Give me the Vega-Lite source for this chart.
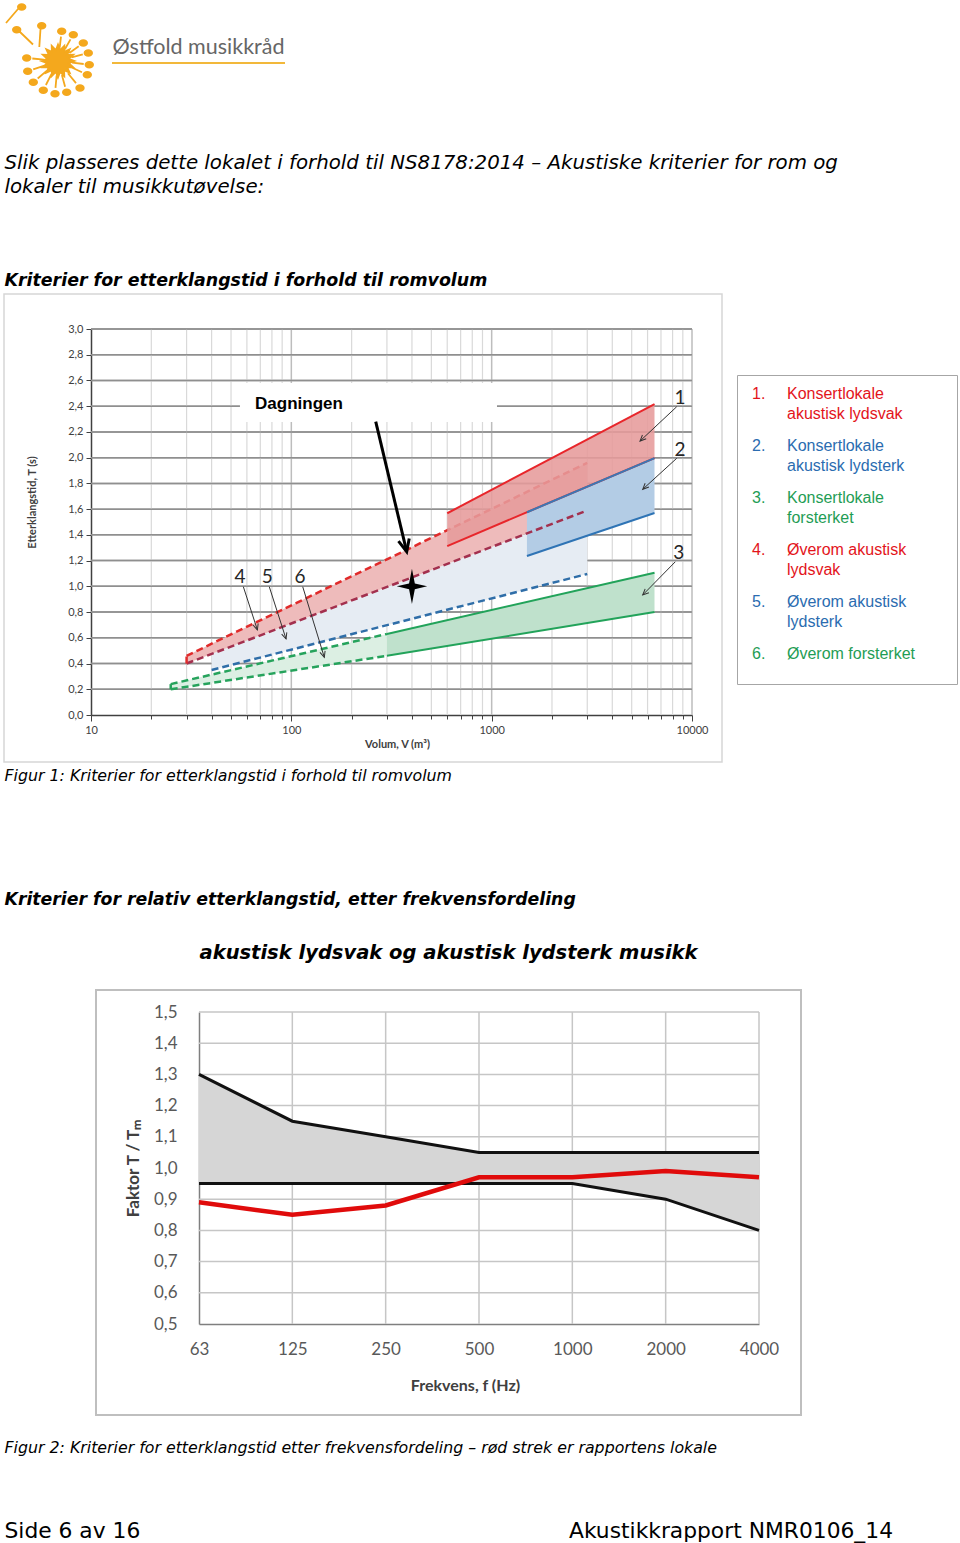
{
  "$schema": "https://vega.github.io/schema/vega-lite/v6.json",
  "padding": {"left": 2, "top": 0, "right": 0, "bottom": 0},
  "background": "white",
  "spacing": 0,
  "config": {
    "view": {"stroke": null},
    "axis": {"labelFont": "Lato", "titleFont": "Lato", "labelOverlap": false, "labelBound": false, "labelSeparation": 0},
    "axisY": {"labelOverlap": false},
    "axisQuantitative": {"labelOverlap": false}
  },
  "datasets": {
    "gridVminor": [{"V":20},{"V":30},{"V":40},{"V":50},{"V":60},{"V":70},{"V":80},{"V":90},{"V":200},{"V":300},{"V":400},{"V":500},{"V":600},{"V":700},{"V":800},{"V":900},{"V":2000},{"V":3000},{"V":4000},{"V":5000},{"V":6000},{"V":7000},{"V":8000},{"V":9000}],
    "gridVmajor": [{"V":100},{"V":1000},{"V":10000}],
    "gridT": [{"T":0.2},{"T":0.4},{"T":0.6},{"T":0.8},{"T":1.0},{"T":1.2},{"T":1.4},{"T":1.6},{"T":1.8},{"T":2.0},{"T":2.2},{"T":2.4},{"T":2.6},{"T":2.8},{"T":3.0}],
    "omraader": [
      {"omr":1,"V":600,"lo":1.313,"hi":1.568},{"omr":1,"V":6500,"lo":1.997,"hi":2.417},
      {"omr":2,"V":1500,"lo":1.236,"hi":1.576},{"omr":2,"V":6500,"lo":1.570,"hi":1.997},
      {"omr":3,"V":300,"lo":0.46,"hi":0.63},{"omr":3,"V":6500,"lo":0.80,"hi":1.106},
      {"omr":4,"V":30,"lo":0.40,"hi":0.46},{"omr":4,"V":3000,"lo":1.59,"hi":1.96},
      {"omr":5,"V":40,"lo":0.35,"hi":0.474},{"omr":5,"V":3000,"lo":1.096,"hi":1.59},
      {"omr":6,"V":25,"lo":0.20,"hi":0.24},{"omr":6,"V":300,"lo":0.46,"hi":0.63}
    ],
    "linjer": [
      {"id":"4 øvre","rom":"øverom","V":30,"T":0.46},{"id":"4 øvre","rom":"øverom","V":3000,"T":1.96},
      {"id":"4 nedre","rom":"øverom","V":30,"T":0.40},{"id":"4 nedre","rom":"øverom","V":3000,"T":1.59},
      {"id":"4 kant","rom":"øverom","V":30,"T":0.40},{"id":"4 kant","rom":"øverom","V":30,"T":0.46},
      {"id":"5 nedre","rom":"øverom","V":40,"T":0.35},{"id":"5 nedre","rom":"øverom","V":3000,"T":1.096},
      {"id":"6 øvre","rom":"øverom","V":25,"T":0.24},{"id":"6 øvre","rom":"øverom","V":300,"T":0.63},
      {"id":"6 nedre","rom":"øverom","V":25,"T":0.20},{"id":"6 nedre","rom":"øverom","V":300,"T":0.46},
      {"id":"6 kant","rom":"øverom","V":25,"T":0.20},{"id":"6 kant","rom":"øverom","V":25,"T":0.24},
      {"id":"1 øvre","rom":"konsertlokale","V":600,"T":1.568},{"id":"1 øvre","rom":"konsertlokale","V":6500,"T":2.417},
      {"id":"1 nedre","rom":"konsertlokale","V":600,"T":1.313},{"id":"1 nedre","rom":"konsertlokale","V":6500,"T":1.997},
      {"id":"2 øvre","rom":"konsertlokale","V":1500,"T":1.576},{"id":"2 øvre","rom":"konsertlokale","V":6500,"T":1.997},
      {"id":"2 nedre","rom":"konsertlokale","V":1500,"T":1.236},{"id":"2 nedre","rom":"konsertlokale","V":6500,"T":1.570},
      {"id":"3 øvre","rom":"konsertlokale","V":300,"T":0.63},{"id":"3 øvre","rom":"konsertlokale","V":6500,"T":1.106},
      {"id":"3 nedre","rom":"konsertlokale","V":300,"T":0.46},{"id":"3 nedre","rom":"konsertlokale","V":6500,"T":0.80}
    ],
    "nummer": [
      {"nr":"1","V":8712,"T":2.461,"V1":8389,"T1":2.396,"V2":5501,"T2":2.129},
      {"nr":"2","V":8712,"T":2.060,"V1":8389,"T1":1.995,"V2":5675,"T2":1.754},
      {"nr":"3","V":8584,"T":1.257,"V1":8254,"T1":1.191,"V2":5675,"T2":0.933},
      {"nr":"4","V":55.4,"T":1.075,"V1":57.6,"T1":0.997,"V2":67.7,"T2":0.661},
      {"nr":"5","V":75.9,"T":1.075,"V1":77.6,"T1":0.997,"V2":94.1,"T2":0.591},
      {"nr":"6","V":110.5,"T":1.070,"V1":114,"T1":0.997,"V2":146.1,"T2":0.448}
    ],
    "dagningen": [
      {"rom":"Dagningen","V":400,"T":1.0,"tekstV":65.9,"tekstT":2.417,"boksV1":55.4,"boksV2":1063,"boksT1":2.277,"boksT2":2.58,"pilV1":263.8,"pilT1":2.28,"pilV2":376.6,"pilT2":1.269}
    ],
    "legende": [
      {"nr":1,"num":"1.","tekst":"Konsertlokale\nakustisk lydsvak","type":"lydsvak"},
      {"nr":2,"num":"2.","tekst":"Konsertlokale\nakustisk lydsterk","type":"lydsterk"},
      {"nr":3,"num":"3.","tekst":"Konsertlokale\nforsterket","type":"forsterket"},
      {"nr":4,"num":"4.","tekst":"Øverom akustisk\nlydsvak","type":"lydsvak"},
      {"nr":5,"num":"5.","tekst":"Øverom akustisk\nlydsterk","type":"lydsterk"},
      {"nr":6,"num":"6.","tekst":"Øverom forsterket","type":"forsterket"}
    ],
    "frekvens": [
      {"f":63,"ovre":1.3,"nedre":0.95,"maalt":0.89},
      {"f":125,"ovre":1.15,"nedre":0.95,"maalt":0.85},
      {"f":250,"ovre":1.1,"nedre":0.95,"maalt":0.88},
      {"f":500,"ovre":1.05,"nedre":0.95,"maalt":0.97},
      {"f":1000,"ovre":1.05,"nedre":0.95,"maalt":0.97},
      {"f":2000,"ovre":1.05,"nedre":0.9,"maalt":0.99},
      {"f":4000,"ovre":1.05,"nedre":0.8,"maalt":0.97}
    ],
    "gridF": [{"f":125},{"f":250},{"f":500},{"f":1000},{"f":2000},{"f":4000}],
    "gridR": [{"R":0.6},{"R":0.7},{"R":0.8},{"R":0.9},{"R":1.0},{"R":1.1},{"R":1.2},{"R":1.3},{"R":1.4},{"R":1.5}]
  },
  "vconcat": [
    {
      "spacing": 0, "bounds": "flush",
      "hconcat": [
        {
          "width": 108, "height": 116,
          "data": {"values": [{"logo": "Østfold musikkråd"}]},
          "mark": {"type": "point", "filled": true, "size": 4, "opacity": 1, "color": "#f4a81d", "stroke": "#f4a81d", "strokeWidth": 1.8,
            "shape": "M16.5,0L10.79,2.15L15.24,6.31L9.15,6.11L11.67,11.67L6.11,9.15L6.31,15.24L2.15,10.79L0,16.5L-2.15,10.79L-6.31,15.24L-6.11,9.15L-11.67,11.67L-9.15,6.11L-15.24,6.31L-10.79,2.15L-16.5,0L-10.79,-2.15L-15.24,-6.31L-9.15,-6.11L-11.67,-11.67L-6.11,-9.15L-6.31,-15.24L-2.15,-10.79L0,-16.5L2.15,-10.79L6.31,-15.24L6.11,-9.15L11.67,-11.67L9.15,-6.11L15.24,-6.31L10.79,-2.15Z M1.7,-13.4L3,-24.4 M6.9,-11.8L12.5,-21.6 M11.4,-8.1L20.7,-14.8 M13.6,-3.6L24.8,-6.6 M14.1,1.7L25.7,3 M13.2,6.2L24,11.2 M9.9,12.2L18,22.1 M3.9,14.1L7.1,25.7 M-1.4,14.7L-2.5,26.8 M-6.6,13.2L-12.1,24 M-11.1,9.6L-20.3,17.5 M-13.6,4.6L-24.8,8.4 M-14.1,-1.4L-25.7,-2.5 M-40,-52L-52,-38 M-38,-29L-25,-16.5 M-17.5,-32L-18.7,-14 M-0.1,-29.7a3.8,2.8 0 1,0 7.6,0a3.8,2.8 0 1,0 -7.6,0Z M11.5,-26.3a3.8,2.8 0 1,0 7.6,0a3.8,2.8 0 1,0 -7.6,0Z M21.5,-18a3.8,2.8 0 1,0 7.6,0a3.8,2.8 0 1,0 -7.6,0Z M26.5,-8a3.8,2.8 0 1,0 7.6,0a3.8,2.8 0 1,0 -7.6,0Z M27.5,3.7a3.8,2.8 0 1,0 7.6,0a3.8,2.8 0 1,0 -7.6,0Z M25.5,13.7a3.8,2.8 0 1,0 7.6,0a3.8,2.8 0 1,0 -7.6,0Z M18.2,27a3.8,2.8 0 1,0 7.6,0a3.8,2.8 0 1,0 -7.6,0Z M4.9,31.3a3.8,2.8 0 1,0 7.6,0a3.8,2.8 0 1,0 -7.6,0Z M-6.8,32.7a3.8,2.8 0 1,0 7.6,0a3.8,2.8 0 1,0 -7.6,0Z M-18.5,29.3a3.8,2.8 0 1,0 7.6,0a3.8,2.8 0 1,0 -7.6,0Z M-28.5,21.3a3.8,2.8 0 1,0 7.6,0a3.8,2.8 0 1,0 -7.6,0Z M-34.1,10.3a3.8,2.8 0 1,0 7.6,0a3.8,2.8 0 1,0 -7.6,0Z M-35.1,-3a3.8,2.8 0 1,0 7.6,0a3.8,2.8 0 1,0 -7.6,0Z M-40.1,-54a3.8,2.8 0 1,0 7.6,0a3.8,2.8 0 1,0 -7.6,0Z M-45.1,-31.3a3.8,2.8 0 1,0 7.6,0a3.8,2.8 0 1,0 -7.6,0Z M-20.1,-35.3a3.8,2.8 0 1,0 7.6,0a3.8,2.8 0 1,0 -7.6,0Z"
          }
        },
        {
          "spacing": 0, "bounds": "flush",
          "vconcat": [
            {"width": 173, "height": 30, "data": {"values": []}, "mark": "point"},
            {"width": 173, "height": 29, "data": {"values": [{"navn": "Østfold musikkråd"}]},
             "mark": {"type": "text", "font": "Lato", "fontSize": 21.5, "color": "#666666", "align": "center", "baseline": "middle"},
             "encoding": {"text": {"field": "navn"}}},
            {"width": 173, "height": 2, "data": {"values": [{"linje": "Østfold musikkråd"}]},
             "mark": {"type": "rect", "color": "#f2b83a"}}
          ]
        }
      ]
    },
    {"width": 900, "height": 32, "data": {"values": []}, "mark": "point"},
    {"width": 1, "height": 24, "data": {"values": [{"tekst": "Slik plasseres dette lokalet i forhold til NS8178:2014 – Akustiske kriterier for rom og"}]},
     "mark": {"type": "text", "align": "left", "baseline": "middle", "font": "DejaVu Sans", "fontSize": 19.8, "fontStyle": "italic", "color": "black"},
     "encoding": {"text": {"field": "tekst"}}},
    {"width": 1, "height": 24, "data": {"values": [{"tekst": "lokaler til musikkutøvelse:"}]},
     "mark": {"type": "text", "align": "left", "baseline": "middle", "font": "DejaVu Sans", "fontSize": 19.8, "fontStyle": "italic", "color": "black"},
     "encoding": {"text": {"field": "tekst"}}},
    {"width": 900, "height": 70, "data": {"values": []}, "mark": "point"},
    {"width": 1, "height": 24, "data": {"values": [{"tekst": "Kriterier for etterklangstid i forhold til romvolum"}]},
     "mark": {"type": "text", "align": "left", "baseline": "middle", "font": "DejaVu Sans", "fontSize": 17.4, "fontStyle": "italic", "fontWeight": "bold", "color": "black"},
     "encoding": {"text": {"field": "tekst"}}},
    {
      "spacing": 13,
      "hconcat": [
        {
          "width": 718, "height": 468,
          "view": {"stroke": "#d6d6d6", "strokeWidth": 1.5},
          "resolve": {"scale": {"color": "independent"}},
          "layer": [
            {
              "data": {"name": "gridT"},
              "mark": {"type": "rule", "color": "#8f8f8f", "strokeWidth": 1.5},
              "encoding": {
                "y": {"field": "T", "type": "quantitative",
                  "scale": {"domain": [0, 3], "range": [421, 35], "nice": false, "zero": false},
                  "axis": {"orient": "left", "offset": -87,
                    "values": [0,0.2,0.4,0.6,0.8,1,1.2,1.4,1.6,1.8,2,2.2,2.4,2.6,2.8,3],
                    "tickCount": 16,
                    "labelExpr": "replace(format(datum.value,'.1f'),'.',',')",
                    "tickSize": 5, "tickColor": "#404040", "domainColor": "#404040", "domainWidth": 1.5, "grid": false,
                    "labelFontSize": 11, "labelColor": "#404040", "labelPadding": 3, "labelOverlap": false, "labelFlush": false,
                    "labelBound": false, "labelSeparation": 0,
                    "labelAlign": "right", "labelBaseline": "middle",
                    "title": "Etterklangstid, T (s)", "titleFontSize": 11, "titleFontWeight": "bold", "titleColor": "#404040",
                    "titleX": -59, "titleY": 208, "titleBaseline": "middle", "titleAngle": 270}},
                "x": {"datum": 10, "type": "quantitative",
                  "scale": {"type": "log", "domain": [10, 10000], "range": [87, 688], "nice": false},
                  "axis": {"orient": "bottom", "offset": -47,
                    "values": [10,20,30,40,50,60,70,80,90,100,200,300,400,500,600,700,800,900,1000,2000,3000,4000,5000,6000,7000,8000,9000,10000],
                    "labelExpr": "(datum.value==10||datum.value==100||datum.value==1000||datum.value==10000)?format(datum.value,'d'):''",
                    "tickSize": {"condition": {"test": "datum.value==10||datum.value==100||datum.value==1000||datum.value==10000", "value": 6}, "value": 4},
                    "tickColor": "#404040", "domainColor": "#404040", "domainWidth": 1.5, "grid": false,
                    "labelFontSize": 11, "labelColor": "#404040", "labelPadding": 3, "labelFlush": false, "labelOverlap": false,
                    "labelAlign": "center", "labelBaseline": "top", "labelAngle": 0,
                    "title": "Volum, V (m³)", "titleFontSize": 11, "titleFontWeight": "bold", "titleColor": "#404040",
                    "titleX": 393, "titleY": 29, "titleBaseline": "middle"}},
                "x2": {"datum": 10000}
              }
            },
            {
              "data": {"name": "gridVminor"},
              "mark": {"type": "rule", "color": "#d9d9d9", "strokeWidth": 1.2},
              "encoding": {
                "x": {"field": "V", "type": "quantitative"},
                "y": {"datum": 0, "type": "quantitative"},
                "y2": {"datum": 3}
              }
            },
            {
              "data": {"name": "gridVmajor"},
              "mark": {"type": "rule", "color": "#bdbdbd", "strokeWidth": 1.5},
              "encoding": {
                "x": {"field": "V", "type": "quantitative"},
                "y": {"datum": 0, "type": "quantitative"},
                "y2": {"datum": 3}
              }
            },
            {
              "data": {"name": "gridT"},
              "mark": {"type": "rule", "color": "#8f8f8f", "strokeWidth": 1.5},
              "encoding": {
                "y": {"field": "T", "type": "quantitative"},
                "x": {"datum": 10, "type": "quantitative"},
                "x2": {"datum": 10000}
              }
            },
            {
              "data": {"name": "dagningen"},
              "mark": {"type": "rect", "color": "white", "opacity": 1},
              "encoding": {
                "x": {"field": "boksV1", "type": "quantitative"},
                "x2": {"field": "boksV2"},
                "y": {"field": "boksT1", "type": "quantitative"},
                "y2": {"field": "boksT2"}
              }
            },
            {
              "data": {"name": "omraader"}, "transform": [{"filter": "datum.omr == 5"}],
              "mark": {"type": "area", "color": "#e6ecf3", "opacity": 1},
              "encoding": {"x": {"field": "V", "type": "quantitative"}, "y": {"field": "hi", "type": "quantitative"}, "y2": {"field": "lo"}}
            },
            {
              "data": {"name": "omraader"}, "transform": [{"filter": "datum.omr == 4"}],
              "mark": {"type": "area", "color": "#eebbbb", "opacity": 1},
              "encoding": {"x": {"field": "V", "type": "quantitative"}, "y": {"field": "hi", "type": "quantitative"}, "y2": {"field": "lo"}}
            },
            {
              "data": {"name": "omraader"}, "transform": [{"filter": "datum.omr == 6"}],
              "mark": {"type": "area", "color": "#dcefe3", "opacity": 1},
              "encoding": {"x": {"field": "V", "type": "quantitative"}, "y": {"field": "hi", "type": "quantitative"}, "y2": {"field": "lo"}}
            },
            {
              "data": {"name": "omraader"}, "transform": [{"filter": "datum.omr == 3"}],
              "mark": {"type": "area", "color": "#bfe1cc", "opacity": 1},
              "encoding": {"x": {"field": "V", "type": "quantitative"}, "y": {"field": "hi", "type": "quantitative"}, "y2": {"field": "lo"}}
            },
            {
              "data": {"name": "omraader"}, "transform": [{"filter": "datum.omr == 2"}],
              "mark": {"type": "area", "color": "#b3cce5", "opacity": 1},
              "encoding": {"x": {"field": "V", "type": "quantitative"}, "y": {"field": "hi", "type": "quantitative"}, "y2": {"field": "lo"}}
            },
            {
              "data": {"name": "linjer"}, "transform": [{"filter": "datum.rom == 'øverom'"}],
              "mark": {"type": "line", "strokeWidth": 2.5, "strokeDash": [7, 4]},
              "encoding": {
                "x": {"field": "V", "type": "quantitative"},
                "y": {"field": "T", "type": "quantitative"},
                "color": {"field": "id", "type": "nominal", "legend": null,
                  "scale": {"domain": ["4 øvre","4 nedre","4 kant","5 nedre","6 øvre","6 nedre","6 kant"], "range": ["#e02b2b","#a3304e","#e02b2b","#2f6ea8","#26a35c","#26a35c","#26a35c"]}}
              }
            },
            {
              "data": {"name": "omraader"}, "transform": [{"filter": "datum.omr == 1"}],
              "mark": {"type": "area", "color": "#e69b9b", "opacity": 0.88},
              "encoding": {"x": {"field": "V", "type": "quantitative"}, "y": {"field": "hi", "type": "quantitative"}, "y2": {"field": "lo"}}
            },
            {
              "data": {"name": "linjer"}, "transform": [{"filter": "datum.rom == 'konsertlokale'"}],
              "mark": {"type": "line", "strokeWidth": 2},
              "encoding": {
                "x": {"field": "V", "type": "quantitative"},
                "y": {"field": "T", "type": "quantitative"},
                "color": {"field": "id", "type": "nominal", "legend": null,
                  "scale": {"domain": ["1 øvre","1 nedre","2 øvre","2 nedre","3 øvre","3 nedre"], "range": ["#e8262b","#e8262b","#3a78b5","#2f74b5","#22a35a","#22a35a"]}}
              }
            },
            {
              "data": {"name": "dagningen"},
              "mark": {"type": "rule", "color": "black", "strokeWidth": 3},
              "encoding": {
                "x": {"field": "pilV1", "type": "quantitative"},
                "y": {"field": "pilT1", "type": "quantitative"},
                "x2": {"field": "pilV2"},
                "y2": {"field": "pilT2"}
              }
            },
            {
              "data": {"name": "dagningen"},
              "mark": {"type": "point", "filled": false, "color": "black", "strokeWidth": 3, "opacity": 1, "size": 600, "angle": -13.4, "shape": "M-0.45,-1L0,0L0.45,-1"},
              "encoding": {
                "x": {"field": "pilV2", "type": "quantitative"},
                "y": {"field": "pilT2", "type": "quantitative"}
              }
            },
            {
              "data": {"name": "dagningen"},
              "mark": {"type": "point", "filled": true, "color": "black", "opacity": 1, "size": 1024, "shape": "M0,-1.1L0.18,-0.18L0.95,0L0.18,0.18L0,1.1L-0.18,0.18L-0.95,0L-0.18,-0.18Z"},
              "encoding": {
                "x": {"field": "V", "type": "quantitative"},
                "y": {"field": "T", "type": "quantitative"}
              }
            },
            {
              "data": {"name": "dagningen"},
              "mark": {"type": "text", "font": "Liberation Sans", "fontSize": 17, "fontWeight": "bold", "color": "black", "align": "left", "baseline": "middle"},
              "encoding": {
                "x": {"field": "tekstV", "type": "quantitative"},
                "y": {"field": "tekstT", "type": "quantitative"},
                "text": {"field": "rom"}
              }
            },
            {
              "data": {"name": "nummer"},
              "mark": {"type": "rule", "color": "#333333", "strokeWidth": 1},
              "encoding": {
                "x": {"field": "V1", "type": "quantitative"},
                "y": {"field": "T1", "type": "quantitative"},
                "x2": {"field": "V2"},
                "y2": {"field": "T2"}
              }
            },
            {
              "data": {"name": "nummer"}, "transform": [{"filter": "datum.nr <= '3'"}],
              "mark": {"type": "point", "filled": false, "color": "#333333", "strokeWidth": 1, "opacity": 1, "size": 144, "angle": 46, "shape": "M-0.45,-1L0,0L0.45,-1"},
              "encoding": {
                "x": {"field": "V2", "type": "quantitative"},
                "y": {"field": "T2", "type": "quantitative"}
              }
            },
            {
              "data": {"name": "nummer"}, "transform": [{"filter": "datum.nr > '3'"}],
              "mark": {"type": "point", "filled": false, "color": "#333333", "strokeWidth": 1, "opacity": 1, "size": 144, "angle": -17.5, "shape": "M-0.45,-1L0,0L0.45,-1"},
              "encoding": {
                "x": {"field": "V2", "type": "quantitative"},
                "y": {"field": "T2", "type": "quantitative"}
              }
            },
            {
              "data": {"name": "nummer"},
              "mark": {"type": "text", "font": "Lato", "fontSize": 19, "color": "#262626", "align": "center", "baseline": "middle"},
              "encoding": {
                "x": {"field": "V", "type": "quantitative"},
                "y": {"field": "T", "type": "quantitative"},
                "text": {"field": "nr"}
              }
            }
          ]
        },
        {
          "spacing": 0, "bounds": "flush",
          "vconcat": [
            {"width": 220, "height": 81, "data": {"values": []}, "mark": "point"},
            {
              "width": 220, "height": 309,
              "view": {"stroke": "#a6a6a6", "strokeWidth": 1},
              "data": {"name": "legende"},
              "layer": [
                {
                  "mark": {"type": "text", "font": "Liberation Sans", "fontSize": 16, "align": "left", "baseline": "top"},
                  "encoding": {
                    "x": {"datum": "nummer", "type": "nominal", "scale": {"type": "point", "domain": ["nummer", "tekst"], "range": [15, 50], "padding": 0}, "axis": null},
                    "y": {"field": "nr", "type": "quantitative", "scale": {"domain": [1, 6], "range": [11, 271], "nice": false, "zero": false}, "axis": null},
                    "text": {"field": "num"},
                    "color": {"field": "type", "type": "nominal", "legend": null, "scale": {"domain": ["lydsvak", "lydsterk", "forsterket"], "range": ["#e3141b", "#2b6cb0", "#1f9d55"]}}
                  }
                },
                {
                  "mark": {"type": "text", "font": "Liberation Sans", "fontSize": 16, "align": "left", "baseline": "top", "lineBreak": "\n", "lineHeight": 20},
                  "encoding": {
                    "x": {"datum": "tekst", "type": "nominal", "axis": null},
                    "y": {"field": "nr", "type": "quantitative", "axis": null},
                    "text": {"field": "tekst"},
                    "color": {"field": "type", "type": "nominal", "legend": null}
                  }
                }
              ]
            }
          ]
        }
      ]
    },
    {"width": 900, "height": 3, "data": {"values": []}, "mark": "point"},
    {"width": 1, "height": 20, "data": {"values": [{"tekst": "Figur 1: Kriterier for etterklangstid i forhold til romvolum"}]},
     "mark": {"type": "text", "align": "left", "baseline": "middle", "font": "DejaVu Sans", "fontSize": 15.8, "fontStyle": "italic", "color": "black"},
     "encoding": {"text": {"field": "tekst"}}},
    {"width": 900, "height": 102, "data": {"values": []}, "mark": "point"},
    {"width": 1, "height": 24, "data": {"values": [{"tekst": "Kriterier for relativ etterklangstid, etter frekvensfordeling"}]},
     "mark": {"type": "text", "align": "left", "baseline": "middle", "font": "DejaVu Sans", "fontSize": 17.3, "fontStyle": "italic", "fontWeight": "bold", "color": "black"},
     "encoding": {"text": {"field": "tekst"}}},
    {"width": 900, "height": 28, "data": {"values": []}, "mark": "point"},
    {"width": 889, "height": 26, "data": {"values": [{"tekst": "akustisk lydsvak og akustisk lydsterk musikk"}]},
     "mark": {"type": "text", "align": "center", "baseline": "middle", "font": "DejaVu Sans", "fontSize": 19.5, "fontStyle": "italic", "fontWeight": "bold", "color": "black"},
     "encoding": {"text": {"field": "tekst"}}},
    {"width": 900, "height": 23, "data": {"values": []}, "mark": "point"},
    {
      "spacing": 0, "bounds": "flush",
      "hconcat": [
        {"width": 92, "height": 425, "data": {"values": []}, "mark": "point"},
        {
          "width": 705, "height": 425,
          "view": {"stroke": "#bfbfbf", "strokeWidth": 2},
          "data": {"name": "frekvens"},
          "layer": [
            {
              "data": {"name": "gridR"},
              "mark": {"type": "rule", "color": "#c6c6c6", "strokeWidth": 1.5},
              "encoding": {
                "y": {"field": "R", "type": "quantitative",
                  "scale": {"domain": [0.5, 1.5], "range": [334, 22], "nice": false, "zero": false},
                  "axis": {"orient": "left", "offset": -103,
                    "values": [0.5,0.6,0.7,0.8,0.9,1,1.1,1.2,1.3,1.4,1.5],
                    "labelExpr": "replace(format(datum.value,'.1f'),'.',',')",
                    "tickSize": 0, "labelPadding": 22, "labelFontSize": 17, "labelColor": "#595959", "labelOverlap": false,
                    "labelAlign": "right", "labelBaseline": "middle",
                    "domainColor": "#7f7f7f", "domainWidth": 1.5, "grid": false,
                    "title": "Faktor T / Tₘ", "titleFontSize": 17, "titleFontWeight": "bold", "titleColor": "#404040",
                    "titleX": -66, "titleY": 178, "titleBaseline": "middle", "titleAngle": 270}},
                "x": {"datum": 63, "type": "ordinal"},
                "x2": {"datum": 4000}
              }
            },
            {
              "data": {"name": "gridF"},
              "mark": {"type": "rule", "color": "#c6c6c6", "strokeWidth": 1.5},
              "encoding": {
                "x": {"field": "f", "type": "ordinal",
                  "scale": {"type": "point", "domain": [63,125,250,500,1000,2000,4000], "range": [103, 663], "padding": 0},
                  "axis": {"orient": "bottom", "offset": -91, "tickSize": 0, "labelPadding": 25, "labelAngle": 0,
                    "labelAlign": "center", "labelBaseline": "middle", "labelOverlap": false,
                    "labelFontSize": 17, "labelColor": "#595959",
                    "domainColor": "#7f7f7f", "domainWidth": 1.5, "grid": false,
                    "title": "Frekvens, f (Hz)", "titleFontSize": 16, "titleFontWeight": "bold", "titleColor": "#404040",
                    "titleX": 369, "titleY": 61, "titleBaseline": "middle"}},
                "y": {"datum": 0.5, "type": "quantitative"},
                "y2": {"datum": 1.5}
              }
            },
            {
              "mark": {"type": "area", "color": "#d6d6d6", "opacity": 1},
              "encoding": {
                "x": {"field": "f", "type": "ordinal"},
                "y": {"field": "ovre", "type": "quantitative"},
                "y2": {"field": "nedre"}
              }
            },
            {
              "mark": {"type": "line", "color": "#111111", "strokeWidth": 3},
              "encoding": {
                "x": {"field": "f", "type": "ordinal"},
                "y": {"field": "ovre", "type": "quantitative"}
              }
            },
            {
              "mark": {"type": "line", "color": "#111111", "strokeWidth": 3},
              "encoding": {
                "x": {"field": "f", "type": "ordinal"},
                "y": {"field": "nedre", "type": "quantitative"}
              }
            },
            {
              "mark": {"type": "line", "color": "#e00b0b", "strokeWidth": 4.5},
              "encoding": {
                "x": {"field": "f", "type": "ordinal"},
                "y": {"field": "maalt", "type": "quantitative"}
              }
            }
          ]
        }
      ]
    },
    {"width": 900, "height": 22, "data": {"values": []}, "mark": "point"},
    {"width": 1, "height": 20, "data": {"values": [{"tekst": "Figur 2: Kriterier for etterklangstid etter frekvensfordeling – rød strek er rapportens lokale"}]},
     "mark": {"type": "text", "align": "left", "baseline": "middle", "font": "DejaVu Sans", "fontSize": 15.8, "fontStyle": "italic", "color": "black"},
     "encoding": {"text": {"field": "tekst"}}},
    {"width": 900, "height": 60, "data": {"values": []}, "mark": "point"},
    {
      "spacing": 564, "bounds": "flush",
      "hconcat": [
        {"width": 1, "height": 26, "data": {"values": [{"tekst": "Side 6 av 16"}]},
         "mark": {"type": "text", "align": "left", "baseline": "middle", "font": "DejaVu Sans", "fontSize": 21.8, "color": "black"},
         "encoding": {"text": {"field": "tekst"}}},
        {"width": 324, "height": 26, "data": {"values": [{"tekst": "Akustikkrapport NMR0106_14"}]},
         "mark": {"type": "text", "align": "center", "baseline": "middle", "font": "DejaVu Sans", "fontSize": 21.8, "color": "black"},
         "encoding": {"text": {"field": "tekst"}}}
      ]
    },
    {"width": 900, "height": 6, "data": {"values": []}, "mark": "point"}
  ]
}
